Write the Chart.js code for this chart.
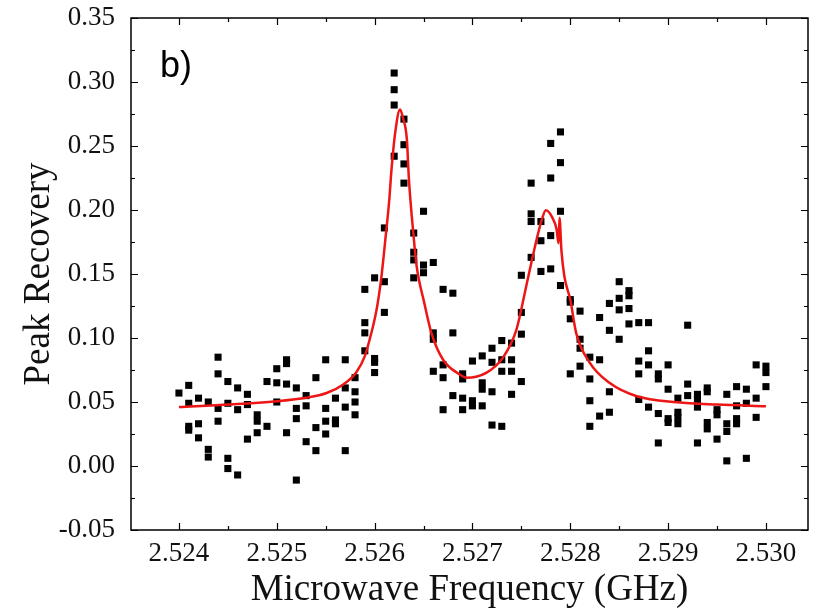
<!DOCTYPE html>
<html>
<head>
<meta charset="utf-8">
<script src="https://cdn.jsdelivr.net/npm/chart.js@4.4.1/dist/chart.umd.min.js"></script>
<style>
  html, body { margin: 0; padding: 0; background: #fff; }
  #wrap { width: 813px; height: 612px; }
</style>
</head>
<body>
<div id="wrap"><canvas id="chart" width="813" height="612"></canvas></div>
<script>
// Sweep frequencies (GHz), one column of repeated measurements each
const freqGHz = [
  2.5240, 2.5241, 2.5242, 2.5243, 2.5244, 2.5245, 2.5246, 2.5247, 2.5248, 2.5249,
  2.5250, 2.5251, 2.5252, 2.5253, 2.5254, 2.5255, 2.5256, 2.5257, 2.5258, 2.5259,
  2.5260, 2.5261, 2.5262, 2.5263, 2.5264, 2.5265, 2.5266, 2.5267, 2.5268, 2.5269,
  2.5270, 2.5271, 2.5272, 2.5273, 2.5274, 2.5275, 2.5276, 2.5277, 2.5278, 2.5279,
  2.5280, 2.5281, 2.5282, 2.5283, 2.5284, 2.5285, 2.5286, 2.5287, 2.5288, 2.5289,
  2.5290, 2.5291, 2.5292, 2.5293, 2.5294, 2.5295, 2.5296, 2.5297, 2.5298, 2.5299,
  2.5300
];

// Peak recovery readings at each frequency
const recovery = [
  [0.057],
  [0.063, 0.049, 0.031, 0.028],
  [0.053, 0.033, 0.022],
  [0.050, 0.013, 0.007],
  [0.085, 0.072, 0.045, 0.035],
  [0.066, 0.049, 0.006, -0.002],
  [0.061, 0.044, -0.007],
  [0.056, 0.048, 0.021],
  [0.040, 0.035, 0.026],
  [0.066, 0.031],
  [0.076, 0.065, 0.050],
  [0.083, 0.080, 0.064, 0.026],
  [0.061, 0.045, 0.037, -0.011],
  [0.055, 0.047, 0.019],
  [0.069, 0.030, 0.012],
  [0.083, 0.045, 0.035, 0.025],
  [0.053, 0.036, 0.033],
  [0.083, 0.061, 0.046, 0.012],
  [0.069, 0.058, 0.050, 0.040],
  [0.138, 0.112, 0.104, 0.090],
  [0.147, 0.084, 0.081, 0.073],
  [0.186, 0.144, 0.120],
  [0.307, 0.294, 0.282, 0.242],
  [0.271, 0.251, 0.236, 0.221],
  [0.182, 0.167, 0.161, 0.147],
  [0.199, 0.157, 0.151],
  [0.159, 0.104, 0.099, 0.074],
  [0.138, 0.079, 0.069, 0.044],
  [0.135, 0.104, 0.055],
  [0.072, 0.068, 0.053, 0.044],
  [0.082, 0.051, 0.047],
  [0.086, 0.065, 0.060, 0.047],
  [0.092, 0.081, 0.058, 0.032],
  [0.098, 0.083, 0.074, 0.031],
  [0.096, 0.083, 0.074, 0.056],
  [0.149, 0.120, 0.103, 0.066],
  [0.221, 0.197, 0.191, 0.163],
  [0.191, 0.176, 0.152],
  [0.252, 0.225, 0.180, 0.154],
  [0.261, 0.237, 0.199, 0.141],
  [0.130, 0.128, 0.115, 0.072],
  [0.121, 0.099, 0.092, 0.078],
  [0.085, 0.068, 0.051, 0.031],
  [0.116, 0.083, 0.039],
  [0.127, 0.106, 0.058, 0.042],
  [0.144, 0.131, 0.122, 0.099],
  [0.137, 0.133, 0.123, 0.111],
  [0.112, 0.082, 0.072, 0.052],
  [0.112, 0.090, 0.079, 0.046],
  [0.072, 0.068, 0.041, 0.018],
  [0.079, 0.060, 0.037, 0.034],
  [0.053, 0.042, 0.038, 0.033],
  [0.110, 0.064, 0.055],
  [0.056, 0.052, 0.046, 0.018],
  [0.061, 0.058, 0.034, 0.029],
  [0.044, 0.040, 0.021],
  [0.056, 0.033, 0.027, 0.004],
  [0.062, 0.047, 0.037, 0.033],
  [0.060, 0.049, 0.006],
  [0.079, 0.053, 0.038],
  [0.078, 0.073, 0.062]
];

// Fit curve
const fitFreq = [
  2.52400, 2.52452, 2.52500, 2.52530, 2.52551, 2.52568, 2.52581, 2.52590, 2.52595, 2.52602,
  2.52607, 2.52611, 2.52615, 2.52617, 2.52621, 2.52626, 2.52629, 2.52633, 2.52635, 2.52638,
  2.52641, 2.52643, 2.52646, 2.52650, 2.52658, 2.52670, 2.52687, 2.52694, 2.52714, 2.52731,
  2.52745, 2.52755, 2.52764, 2.52771, 2.52775, 2.52781, 2.52786, 2.52788, 2.52789, 2.52791,
  2.52794, 2.52800, 2.52806, 2.52820, 2.52840, 2.52868, 2.52909, 2.52950, 2.53000
];
const fitRecovery = [
  0.046, 0.048, 0.0506, 0.0533, 0.057, 0.0637, 0.0728, 0.0858, 0.099, 0.122,
  0.148, 0.177, 0.208, 0.229, 0.260, 0.2785, 0.272, 0.255, 0.225, 0.195,
  0.170, 0.156, 0.143, 0.130, 0.104, 0.083, 0.0715, 0.069, 0.0728, 0.0845,
  0.1066, 0.1405, 0.1717, 0.1926, 0.1998, 0.195, 0.185, 0.174, 0.194, 0.168,
  0.148, 0.130, 0.104, 0.0806, 0.065, 0.0545, 0.0498, 0.048, 0.0467
];

const xTicks = [2.524, 2.525, 2.526, 2.527, 2.528, 2.529, 2.530];
const yTicks = [-0.05, 0, 0.05, 0.10, 0.15, 0.20, 0.25, 0.30, 0.35];

const scatterPts = [];
freqGHz.forEach((f, i) => {
  recovery[i].forEach(v => scatterPts.push({ x: f, y: v }));
});
const fitPts = fitFreq.map((f, i) => ({ x: f, y: fitRecovery[i] }));

// Box frame with inward major/minor ticks on all four sides, plus panel tag
const frameTicks = {
  id: 'frameTicks',
  afterDraw(chart) {
    const { ctx, chartArea: a, scales: { x, y } } = chart;
    ctx.save();
    ctx.strokeStyle = '#000';
    ctx.lineWidth = 1.5;
    ctx.strokeRect(a.left, a.top, a.right - a.left, a.bottom - a.top);

    ctx.lineWidth = 1.2;
    ctx.beginPath();
    const xs = [];
    for (let i = 0; i < xTicks.length; i++) {
      xs.push([xTicks[i], 7]);
      if (i < xTicks.length - 1) xs.push([(xTicks[i] + xTicks[i + 1]) / 2, 4]);
    }
    xs.push([xTicks[0] - 0.0005, 4]);
    xs.push([xTicks[xTicks.length - 1] + 0.0005, 4]);
    xs.forEach(([v, len]) => {
      const px = Math.round(x.getPixelForValue(v)) + 0.5;
      if (px < a.left + 1 || px > a.right - 1) return;
      ctx.moveTo(px, a.bottom); ctx.lineTo(px, a.bottom - len);
      ctx.moveTo(px, a.top); ctx.lineTo(px, a.top + len);
    });
    const ys = [];
    for (let i = 0; i < yTicks.length; i++) {
      ys.push([yTicks[i], 7]);
      if (i < yTicks.length - 1) ys.push([(yTicks[i] + yTicks[i + 1]) / 2, 4]);
    }
    ys.forEach(([v, len]) => {
      const py = Math.round(y.getPixelForValue(v)) + 0.5;
      ctx.moveTo(a.left, py); ctx.lineTo(a.left + len, py);
      ctx.moveTo(a.right, py); ctx.lineTo(a.right - len, py);
    });
    ctx.stroke();

    ctx.fillStyle = '#000';
    ctx.font = '36px "Liberation Sans", Arial, sans-serif';
    ctx.textBaseline = 'alphabetic';
    ctx.fillText('b)', 160, 77);
    ctx.restore();
  }
};

const ctx = document.getElementById('chart').getContext('2d');
new Chart(ctx, {
  type: 'scatter',
  data: {
    datasets: [
      {
        label: 'data',
        data: scatterPts,
        pointStyle: 'rect',
        pointRadius: 5,
        backgroundColor: '#000',
        borderColor: '#000',
        borderWidth: 0,
        order: 2
      },
      {
        label: 'fit',
        type: 'line',
        data: fitPts,
        borderColor: '#ee1515',
        borderWidth: 2.5,
        pointRadius: 0,
        cubicInterpolationMode: 'monotone',
        fill: false,
        order: 1
      }
    ]
  },
  options: {
    responsive: false,
    animation: false,
    events: [],
    layout: { padding: { top: 18, right: 5, left: 0, bottom: 0 } },
    plugins: {
      legend: { display: false },
      tooltip: { enabled: false }
    },
    scales: {
      x: {
        type: 'linear',
        min: 2.52351,
        max: 2.53043,
        afterBuildTicks: s => { s.ticks = xTicks.map(v => ({ value: v })); },
        afterFit: s => { s.height = 82; s.paddingLeft = 0; s.paddingRight = 0; },
        grid: { display: false, drawTicks: false },
        border: { display: false },
        ticks: {
          color: '#111',
          padding: 8,
          maxRotation: 0,
          font: { family: '"Liberation Serif", "Times New Roman", serif', size: 27 },
          callback: v => v.toFixed(3)
        },
        title: {
          display: true,
          text: 'Microwave Frequency (GHz)',
          color: '#111',
          padding: { top: 0, bottom: 0 },
          font: { family: '"Liberation Serif", "Times New Roman", serif', size: 37 }
        }
      },
      y: {
        min: -0.05,
        max: 0.35,
        afterBuildTicks: s => { s.ticks = yTicks.map(v => ({ value: v })); },
        afterFit: s => { s.width = 131; s.paddingTop = 0; s.paddingBottom = 0; },
        grid: { display: false, drawTicks: false },
        border: { display: false },
        ticks: {
          color: '#111',
          padding: 16,
          font: { family: '"Liberation Serif", "Times New Roman", serif', size: 27 },
          callback: v => v.toFixed(2)
        },
        title: {
          display: true,
          text: 'Peak Recovery',
          color: '#111',
          padding: { top: 17, bottom: 0 },
          font: { family: '"Liberation Serif", "Times New Roman", serif', size: 37 }
        }
      }
    }
  },
  plugins: [frameTicks]
});
</script>
</body>
</html>
